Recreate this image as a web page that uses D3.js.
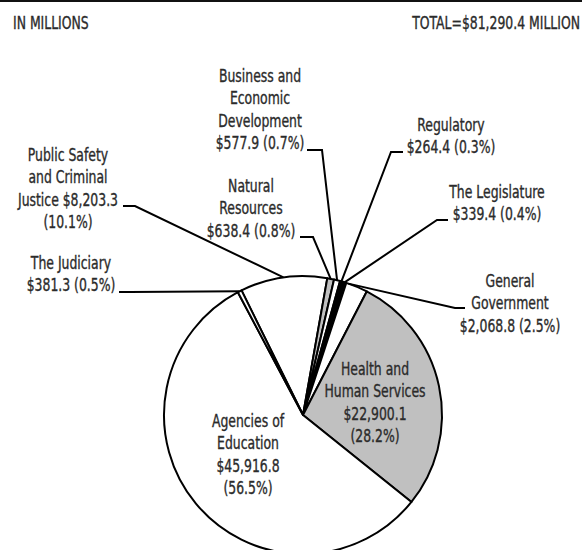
<!DOCTYPE html>
<html>
<head>
<meta charset="utf-8">
<script src="https://cdn.jsdelivr.net/npm/d3@7"></script>
<style>
  html, body { margin: 0; padding: 0; background: #fff; }
  svg text { font-family: "DejaVu Sans Condensed", "DejaVu Sans", sans-serif; font-stretch: condensed; fill: #2b2b2b; stroke: #2b2b2b; stroke-width: 0.35px; font-size: 17.5px; }
</style>
</head>
<body>
<svg id="chart" width="582" height="550"></svg>
<script>
// data (in millions, clockwise from Public Safety)
var agencies = ["Public Safety and Criminal Justice", "Natural Resources", "Business and Economic Development",
    "Regulatory", "The Legislature", "General Government", "Health and Human Services",
    "Agencies of Education", "The Judiciary"];
var amounts = [8203.3, 638.4, 577.9, 264.4, 339.4, 2068.8, 22900.1, 45916.8, 381.3];
var shares = [10.1, 0.8, 0.7, 0.3, 0.4, 2.5, 28.2, 56.5, 0.5];
var fills = ["#fff", "#c0c0c0", "#fff", "#000", "#000", "#fff", "#c0c0c0", "#fff", "#fff"];
// how each label is broken into lines
var labelLines = [
    ["Public Safety", "and Criminal", "Justice {amt}", "({pct})"],
    ["Natural", "Resources", "{amt} ({pct})"],
    ["Business and", "Economic", "Development", "{amt} ({pct})"],
    ["Regulatory", "{amt} ({pct})"],
    ["The Legislature", "{amt} ({pct})"],
    ["General", "Government", "{amt} ({pct})"],
    ["Health and", "Human Services", "{amt}", "({pct})"],
    ["Agencies of", "Education", "{amt}", "({pct})"],
    ["The Judiciary", "{amt} ({pct})"]
];
var unitsText = "IN MILLIONS";
var totalText = "TOTAL=$81,290.4 MILLION";

// layout of labels: x = center of text, y = first baseline,
// lx/ly = where leader starts, ex = elbow x, f = where on the slice arc it points
var layout = [
    {x: 68, y: 161, lx: 123, ly: 206, ex: 135, f: 0.5},
    {x: 251, y: 192, lx: 300, ly: 237, ex: 313, f: 0.5},
    {x: 260, y: 82, lx: 307, ly: 150, ex: 322, f: 0.5},
    {x: 451, y: 131, lx: 403, ly: 152, ex: 391, f: 0.5},
    {x: 497, y: 198, lx: 448, ly: 220, ex: 437, f: 0.5},
    {x: 510, y: 287, lx: 465, ly: 308, ex: 455, f: 0.1},
    {x: 375, y: 375, inside: true},
    {x: 248, y: 427, inside: true},
    {x: 71, y: 269, lx: 119, ly: 292, ex: 130, f: 0.5}
];

var svg = d3.select("#chart");
var W = 582, lineH = 22.5, sx = 0.79;
var cx = 303, cy = 415, r = 139;

var fmt = d3.format(",.1f");

// squeeze text sideways, the original face is a narrow one
function placed(x, y) {
    return "translate(" + x + "," + y + ") scale(" + sx + ",1)";
}

// top rule and headers
svg.append("line")
    .attr("x1", 0).attr("x2", W)
    .attr("y1", 1).attr("y2", 1)
    .attr("stroke", "#111").attr("stroke-width", 2);

svg.append("text")
    .attr("transform", placed(13, 29))
    .text(unitsText);

svg.append("text")
    .attr("transform", placed(580, 29))
    .attr("text-anchor", "end")
    .text(totalText);

// pie
var start = -26.25 * Math.PI / 180;
var pie = d3.pie().sort(null).value(function (d) { return d; })
    .startAngle(start).endAngle(start + 2 * Math.PI);
var arcs = pie(amounts);
var arc = d3.arc().innerRadius(0).outerRadius(r);

var g = svg.append("g").attr("transform", "translate(" + cx + "," + cy + ")");

g.selectAll("path")
    .data(arcs)
    .enter()
    .append("path")
    .attr("d", arc)
    .attr("fill", function (d, i) { return fills[i]; })
    .attr("stroke", "#000")
    .attr("stroke-width", 2)
    .attr("stroke-linejoin", "round");

// leader lines
arcs.forEach(function (d, i) {
    var L = layout[i];
    if (L.inside) return;
    var a = d.startAngle + L.f * (d.endAngle - d.startAngle);
    var px = cx + r * Math.sin(a), py = cy - r * Math.cos(a);
    svg.append("polyline")
        .attr("points", [[L.lx, L.ly], [L.ex, L.ly], [px, py]].map(function (p) { return p.join(","); }).join(" "))
        .attr("fill", "none")
        .attr("stroke", "#000")
        .attr("stroke-width", 2);
});

// labels
labelLines.forEach(function (lines, i) {
    var L = layout[i];
    var t = svg.append("text")
        .attr("transform", placed(L.x, L.y))
        .attr("text-anchor", "middle");
    lines.forEach(function (s, k) {
        s = s.replace("{amt}", "$" + fmt(amounts[i])).replace("{pct}", shares[i].toFixed(1) + "%");
        t.append("tspan")
            .attr("x", 0)
            .attr("y", k * lineH)
            .text(s);
    });
});
</script>
</body>
</html>
